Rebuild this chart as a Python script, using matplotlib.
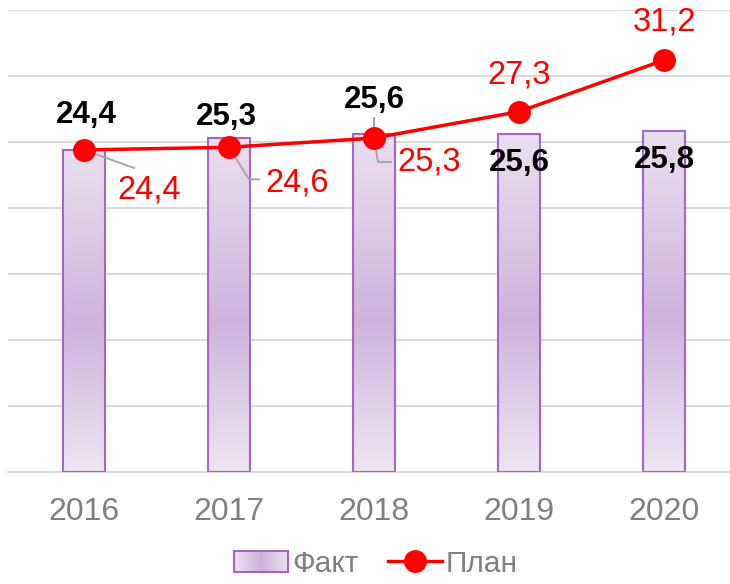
import numpy as np
import matplotlib.pyplot as plt
from matplotlib.colors import LinearSegmentedColormap
from matplotlib.legend_handler import HandlerBase
from matplotlib.patches import Rectangle, Patch
from matplotlib.lines import Line2D
from matplotlib.transforms import IdentityTransform

years = ['2016', '2017', '2018', '2019', '2020']
fact = [24.4, 25.3, 25.6, 25.6, 25.8]
plan = [24.4, 24.6, 25.3, 27.3, 31.2]

# label offsets in pixels (dx, dy up)
fact_offsets = [(2, 35), (-3, 21), (0, 34), (0, -29), (0, -29)]
plan_offsets = [(65, -40), (68, -36), (55, -24), (0, 37), (0, 38)]
# leader lines (pixel offsets from the plan point)
leaders = [
    [(0, 0), (50, -18)],
    [(0, 0), (20, -32), (30, -32)],
    [(0, 20), (0, 0), (4, -24), (17, -24)],
    None,
    None,
]

plt.rcParams['font.family'] = ['Liberation Sans', 'DejaVu Sans']

fig = plt.figure(figsize=(7.3, 5.84), dpi=100)
ax = fig.add_axes([8 / 730, 112 / 584, 722 / 730, 462 / 584])

x = np.arange(len(years))
bar_w = 0.29
bar_cmap = LinearSegmentedColormap.from_list(
    'bar', [(0, '#efe4f4'), (0.45, '#d0b3dc'), (1, '#ecdef1')])
grad = np.linspace(0, 1, 256).reshape(-1, 1)
for xi, v in zip(x, fact):
    ax.imshow(grad, extent=(xi - bar_w / 2, xi + bar_w / 2, 0, v), origin='lower',
              aspect='auto', cmap=bar_cmap, zorder=2)
ax.bar(x, fact, bar_w, facecolor='none', edgecolor='#a566bf', lw=1.5, zorder=3)

ax.plot(x, plan, color='#ff0000', lw=2.5, marker='o', ms=15.5, zorder=5)

ax.set_xlim(-0.524, 4.455)
ax.set_ylim(0, 35)
ax.set_yticks(np.arange(0, 36, 5))
ax.yaxis.grid(True, color='#d9d9d9', lw=1.4)
ax.set_axisbelow(True)
ax.tick_params(axis='y', left=False, labelleft=False)
ax.set_xticks(x)
ax.set_xticklabels(years)
ax.tick_params(axis='x', length=0, pad=18, labelsize=23, labelcolor='#7f7f7f')
for s in ['top', 'left', 'right']:
    ax.spines[s].set_visible(False)
ax.spines['bottom'].set_color('#d9d9d9')
ax.spines['bottom'].set_linewidth(1.4)

for xi, v, (dx, dy) in zip(x, fact, fact_offsets):
    ax.annotate(f'{v:.1f}'.replace('.', ','), (xi, v), xytext=(dx, dy),
                textcoords='offset pixels', ha='center', va='center',
                fontsize=22.5, fontweight='bold', color='black', zorder=6)

for xi, v, (dx, dy), ld in zip(x, plan, plan_offsets, leaders):
    ax.annotate(f'{v:.1f}'.replace('.', ','), (xi, v), xytext=(dx, dy),
                textcoords='offset pixels', ha='center', va='center',
                fontsize=23.5, color='#ff0000', zorder=6)
    if ld:
        X, Y = ax.transData.transform((xi, v))
        ax.add_line(Line2D([X + p[0] for p in ld], [Y + p[1] for p in ld],
                           transform=IdentityTransform(), color='#a6a6a6',
                           lw=1.4, zorder=4))


class GradientHandler(HandlerBase):
    def create_artists(self, legend, orig_handle, xdescent, ydescent,
                       width, height, fontsize, trans):
        arts = []
        n = 30
        cm = LinearSegmentedColormap.from_list(
            'leg', ['#ece0f1', '#cfb1db', '#ece0f1'])
        for i in range(n):
            r = Rectangle((-xdescent + width * i / n, -ydescent), width / n + 0.3,
                          height, facecolor=cm(i / (n - 1)), edgecolor='none',
                          transform=trans)
            arts.append(r)
        arts.append(Rectangle((-xdescent, -ydescent), width, height,
                              facecolor='none', edgecolor='#a566bf', lw=1.5,
                              transform=trans))
        return arts


bar_handle = Patch(facecolor='#dcc6e6', edgecolor='#a566bf')
line_handle = Line2D([], [], color='#ff0000', lw=2.5, marker='o', ms=15.5)
fig.legend([bar_handle, line_handle], ['Факт', 'План'], loc='lower center',
           bbox_to_anchor=(0.515, -0.03), ncol=2, frameon=False, fontsize=21.5,
           labelcolor='#7f7f7f', handlelength=1.8, handletextpad=0.12,
           columnspacing=1.0, borderpad=0.3,
           handler_map={Patch: GradientHandler()})

fig.savefig('out.png', dpi=100)
